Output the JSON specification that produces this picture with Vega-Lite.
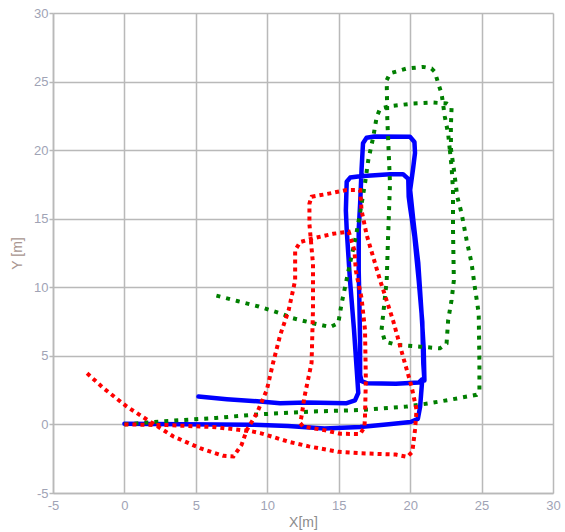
{
  "$schema": "https://vega.github.io/schema/vega-lite/v6.json",
  "autosize": {"type": "none"},
  "padding": {"left": 53, "top": 13, "right": 12, "bottom": 39},
  "width": 500,
  "height": 480,
  "background": "white",
  "config": {
    "view": {"stroke": null},
    "axis": {
      "grid": true, "gridColor": "#b9b9b9", "gridWidth": 1.5,
      "domainColor": "#b9b9b9", "domainWidth": 1.5,
      "tickColor": "#b9b9b9", "tickWidth": 1.5,
      "labelColor": "#a0a3b5", "labelFont": "Liberation Sans", "labelFontSize": 13,
      "labelFlush": false, "labelOverlap": false, "labelBound": false,
      "labelExpr": "'' + datum.value",
      "titleFont": "Liberation Sans", "titleFontSize": 14, "titleFontWeight": "normal"
    }
  },
  "datasets": {
    "blue": [
      {"i":1,"x":0,"y":0.05},{"i":2,"x":4,"y":0.02},{"i":3,"x":8.9,"y":-0.02},{"i":4,"x":11.45,"y":-0.12},
      {"i":5,"x":14,"y":-0.3},{"i":6,"x":16.5,"y":-0.18},{"i":7,"x":18.5,"y":0.02},{"i":8,"x":20.03,"y":0.18},
      {"i":9,"x":20.54,"y":0.4},{"i":10,"x":20.7,"y":1.3},{"i":11,"x":20.85,"y":3.3},{"i":12,"x":20.6,"y":3.05},
      {"i":13,"x":19.0,"y":2.96},{"i":14,"x":17.0,"y":3.0},{"i":15,"x":16.6,"y":3.15},{"i":16,"x":16.5,"y":3.6},
      {"i":17,"x":16.49,"y":6.3},{"i":18,"x":16.44,"y":9.3},{"i":19,"x":16.4,"y":11.2},{"i":20,"x":16.4,"y":14.2},
      {"i":21,"x":16.5,"y":16.1},{"i":22,"x":16.6,"y":18.6},{"i":23,"x":16.7,"y":20.5},{"i":24,"x":16.95,"y":20.9},
      {"i":25,"x":17.5,"y":21.0},{"i":26,"x":19.99,"y":20.97},{"i":27,"x":20.3,"y":20.6},{"i":28,"x":20.34,"y":19.8},
      {"i":29,"x":20.2,"y":18.6},{"i":30,"x":20.0,"y":17.1},{"i":31,"x":20.22,"y":14.9},{"i":32,"x":20.57,"y":11.75},
      {"i":33,"x":20.8,"y":8.1},{"i":34,"x":20.95,"y":5.5},{"i":35,"x":21.0,"y":3.2},{"i":36,"x":20.92,"y":4.46},
      {"i":37,"x":20.85,"y":7.5},{"i":38,"x":20.6,"y":10.5},{"i":39,"x":20.3,"y":13.7},{"i":40,"x":20.0,"y":15.8},
      {"i":41,"x":19.9,"y":16.6},{"i":42,"x":19.87,"y":17.9},{"i":43,"x":19.5,"y":18.25},{"i":44,"x":18.59,"y":18.25},
      {"i":45,"x":16.49,"y":18.1},{"i":46,"x":15.8,"y":18.0},{"i":47,"x":15.56,"y":17.7},{"i":48,"x":15.5,"y":15.6},
      {"i":49,"x":15.56,"y":14.2},{"i":50,"x":15.79,"y":10.5},{"i":51,"x":16.07,"y":6.9},{"i":52,"x":16.26,"y":4.0},
      {"i":53,"x":16.37,"y":2.3},{"i":54,"x":16.14,"y":1.75},{"i":55,"x":15.56,"y":1.55},{"i":56,"x":12.76,"y":1.6},
      {"i":57,"x":10.9,"y":1.55},{"i":58,"x":9.5,"y":1.67},{"i":59,"x":7.17,"y":1.84},{"i":60,"x":5.18,"y":2.03}
    ],
    "green": [
      {"s":"a","i":1,"x":0,"y":0},{"s":"a","i":2,"x":2.6,"y":0.22},{"s":"a","i":3,"x":6.4,"y":0.47},{"s":"a","i":4,"x":8.9,"y":0.7},
      {"s":"a","i":5,"x":10.9,"y":0.82},{"s":"a","i":6,"x":13.2,"y":0.94},{"s":"a","i":7,"x":16.7,"y":1.06},{"s":"a","i":8,"x":19.75,"y":1.3},
      {"s":"a","i":9,"x":21.4,"y":1.55},{"s":"a","i":10,"x":23.0,"y":1.84},{"s":"a","i":11,"x":24.65,"y":2.16},{"s":"a","i":12,"x":24.85,"y":2.4},
      {"s":"a","i":13,"x":24.85,"y":4.5},{"s":"a","i":14,"x":24.8,"y":8.1},{"s":"a","i":15,"x":24.53,"y":10.0},{"s":"a","i":16,"x":24.3,"y":11.75},
      {"s":"a","i":17,"x":23.95,"y":13.45},{"s":"a","i":18,"x":23.6,"y":15.4},{"s":"a","i":19,"x":23.3,"y":16.6},{"s":"a","i":20,"x":23.06,"y":18.6},
      {"s":"a","i":21,"x":22.86,"y":20.07},{"s":"a","i":22,"x":22.85,"y":21.7},{"s":"a","i":23,"x":22.9,"y":23.1},{"s":"a","i":24,"x":22.55,"y":23.4},
      {"s":"a","i":25,"x":21.6,"y":23.47},{"s":"a","i":26,"x":20.2,"y":23.4},{"s":"a","i":27,"x":18.6,"y":23.2},{"s":"a","i":28,"x":17.9,"y":23.04},
      {"s":"a","i":29,"x":17.66,"y":22.43},{"s":"a","i":30,"x":17.42,"y":20.97},{"s":"a","i":31,"x":17.07,"y":19.27},{"s":"a","i":32,"x":16.84,"y":17.57},
      {"s":"a","i":33,"x":16.49,"y":15.39},{"s":"a","i":34,"x":16.2,"y":13.7},{"s":"a","i":35,"x":15.79,"y":11.75},{"s":"a","i":36,"x":15.44,"y":10.0},
      {"s":"a","i":37,"x":15.2,"y":8.8},{"s":"a","i":38,"x":14.97,"y":7.38},{"s":"a","i":39,"x":14.4,"y":7.1},{"s":"a","i":40,"x":13.2,"y":7.38},
      {"s":"a","i":41,"x":11.8,"y":7.74},{"s":"a","i":42,"x":10.9,"y":8.1},{"s":"a","i":43,"x":9.4,"y":8.6},{"s":"a","i":44,"x":7.9,"y":9.0},
      {"s":"a","i":45,"x":6.4,"y":9.4},
      {"s":"b","i":1,"x":22.78,"y":20.0},{"s":"b","i":2,"x":22.9,"y":18.78},{"s":"b","i":3,"x":23.0,"y":17.1},{"s":"b","i":4,"x":23.0,"y":14.2},
      {"s":"b","i":5,"x":23.06,"y":10.5},{"s":"b","i":6,"x":22.9,"y":9.07},{"s":"b","i":7,"x":22.66,"y":7.6},{"s":"b","i":8,"x":22.55,"y":5.9},
      {"s":"b","i":9,"x":22.08,"y":5.55},{"s":"b","i":10,"x":20.69,"y":5.67},{"s":"b","i":11,"x":19.06,"y":5.8},{"s":"b","i":12,"x":18.24,"y":6.04},
      {"s":"b","i":13,"x":18.0,"y":6.9},{"s":"b","i":14,"x":18.17,"y":8.6},{"s":"b","i":15,"x":18.36,"y":10.5},{"s":"b","i":16,"x":18.45,"y":13.5},
      {"s":"b","i":17,"x":18.59,"y":17.57},{"s":"b","i":18,"x":18.4,"y":22.3},{"s":"b","i":19,"x":18.36,"y":25.1},{"s":"b","i":20,"x":18.59,"y":25.6},
      {"s":"b","i":21,"x":19.75,"y":25.95},{"s":"b","i":22,"x":20.92,"y":26.07},{"s":"b","i":23,"x":21.5,"y":25.95},{"s":"b","i":24,"x":21.73,"y":25.7},
      {"s":"b","i":25,"x":21.97,"y":24.86},{"s":"b","i":26,"x":22.2,"y":24.13},{"s":"b","i":27,"x":22.43,"y":22.43},{"s":"b","i":28,"x":22.66,"y":21.2},
      {"s":"b","i":29,"x":22.78,"y":20.0}
    ],
    "red": [
      {"i":1,"x":0,"y":0},{"i":2,"x":3,"y":-0.05},{"i":3,"x":5.3,"y":-0.15},{"i":4,"x":6.4,"y":-0.2},
      {"i":5,"x":8.9,"y":-0.5},{"i":6,"x":9.5,"y":-0.63},{"i":7,"x":11.45,"y":-1.25},{"i":8,"x":12.9,"y":-1.6},
      {"i":9,"x":14.98,"y":-2.0},{"i":10,"x":16.5,"y":-2.1},{"i":11,"x":19.0,"y":-2.2},{"i":12,"x":19.8,"y":-2.36},
      {"i":13,"x":20.15,"y":-2.0},{"i":14,"x":20.2,"y":-1.6},{"i":15,"x":20.34,"y":-0.4},{"i":16,"x":20.45,"y":1.06},
      {"i":17,"x":20.1,"y":2.76},{"i":18,"x":19.5,"y":4.95},{"i":19,"x":18.8,"y":7.6},{"i":20,"x":17.9,"y":10.5},
      {"i":21,"x":16.96,"y":13.8},{"i":22,"x":16.6,"y":15.6},{"i":23,"x":16.5,"y":17.1},{"i":24,"x":15.56,"y":17.1},
      {"i":25,"x":14.4,"y":16.85},{"i":26,"x":13.1,"y":16.6},{"i":27,"x":12.95,"y":16.1},{"i":28,"x":12.95,"y":14.6},
      {"i":29,"x":13.2,"y":11.7},{"i":30,"x":13.2,"y":8.4},{"i":31,"x":13.1,"y":4.5},{"i":32,"x":12.6,"y":2.0},
      {"i":33,"x":12.4,"y":0.6},{"i":34,"x":12.3,"y":0.1},{"i":35,"x":12.5,"y":-0.15},{"i":36,"x":13.9,"y":-0.4},
      {"i":37,"x":15.09,"y":-0.68},{"i":38,"x":16.5,"y":-0.7},{"i":39,"x":16.8,"y":-0.2},{"i":40,"x":16.84,"y":0.58},
      {"i":41,"x":16.9,"y":3.25},{"i":42,"x":16.84,"y":6.9},{"i":43,"x":16.6,"y":9.2},{"i":44,"x":16.2,"y":11.2},
      {"i":45,"x":16.1,"y":12.7},{"i":46,"x":15.7,"y":14.05},{"i":47,"x":14.6,"y":13.9},{"i":48,"x":13.2,"y":13.57},
      {"i":49,"x":12.3,"y":13.3},{"i":50,"x":11.95,"y":12.7},{"i":51,"x":11.95,"y":10.5},{"i":52,"x":11.5,"y":8.35},
      {"i":53,"x":10.9,"y":6.5},{"i":54,"x":10.4,"y":4.46},{"i":55,"x":9.97,"y":2.52},{"i":56,"x":9.27,"y":0.82},
      {"i":57,"x":8.57,"y":-0.4},{"i":58,"x":8.2,"y":-1.49},{"i":59,"x":7.63,"y":-2.34},{"i":60,"x":6.93,"y":-2.29},
      {"i":61,"x":5.3,"y":-1.73},{"i":62,"x":3.43,"y":-0.88},{"i":63,"x":1.8,"y":0.2},{"i":64,"x":0.17,"y":1.3},
      {"i":65,"x":-1.46,"y":2.64},{"i":66,"x":-2.74,"y":3.85}
    ]
  },
  "encoding": {
    "x": {"field": "x", "type": "quantitative",
      "scale": {"domain": [-5, 30], "nice": false, "zero": false},
      "axis": {"values": [-5, 0, 5, 10, 15, 20, 25, 30], "ticks": false, "labelPadding": 6,
        "title": "X[m]", "titleColor": "#8c8c8c", "titlePadding": 3}},
    "y": {"field": "y", "type": "quantitative",
      "scale": {"domain": [-5, 30], "nice": false, "zero": false},
      "axis": {"values": [-5, 0, 5, 10, 15, 20, 25, 30], "ticks": true, "tickSize": 4, "labelPadding": 1,
        "title": "Y [m]", "titleColor": "#a8958f", "titlePadding": 9}},
    "order": {"field": "i", "type": "quantitative"}
  },
  "layer": [
    {"data": {"name": "blue"},
     "mark": {"type": "line", "color": "#0000ff", "strokeWidth": 4.5, "strokeJoin": "round", "strokeCap": "round", "clip": true}},
    {"data": {"name": "green"},
     "mark": {"type": "line", "color": "#007f00", "strokeWidth": 4, "strokeDash": [4, 6], "strokeCap": "butt", "clip": true},
     "encoding": {"detail": {"field": "s", "type": "nominal"}}},
    {"data": {"name": "red"},
     "mark": {"type": "line", "color": "#ff0000", "strokeWidth": 4, "strokeDash": [4, 4], "strokeCap": "butt", "clip": true}}
  ]
}
